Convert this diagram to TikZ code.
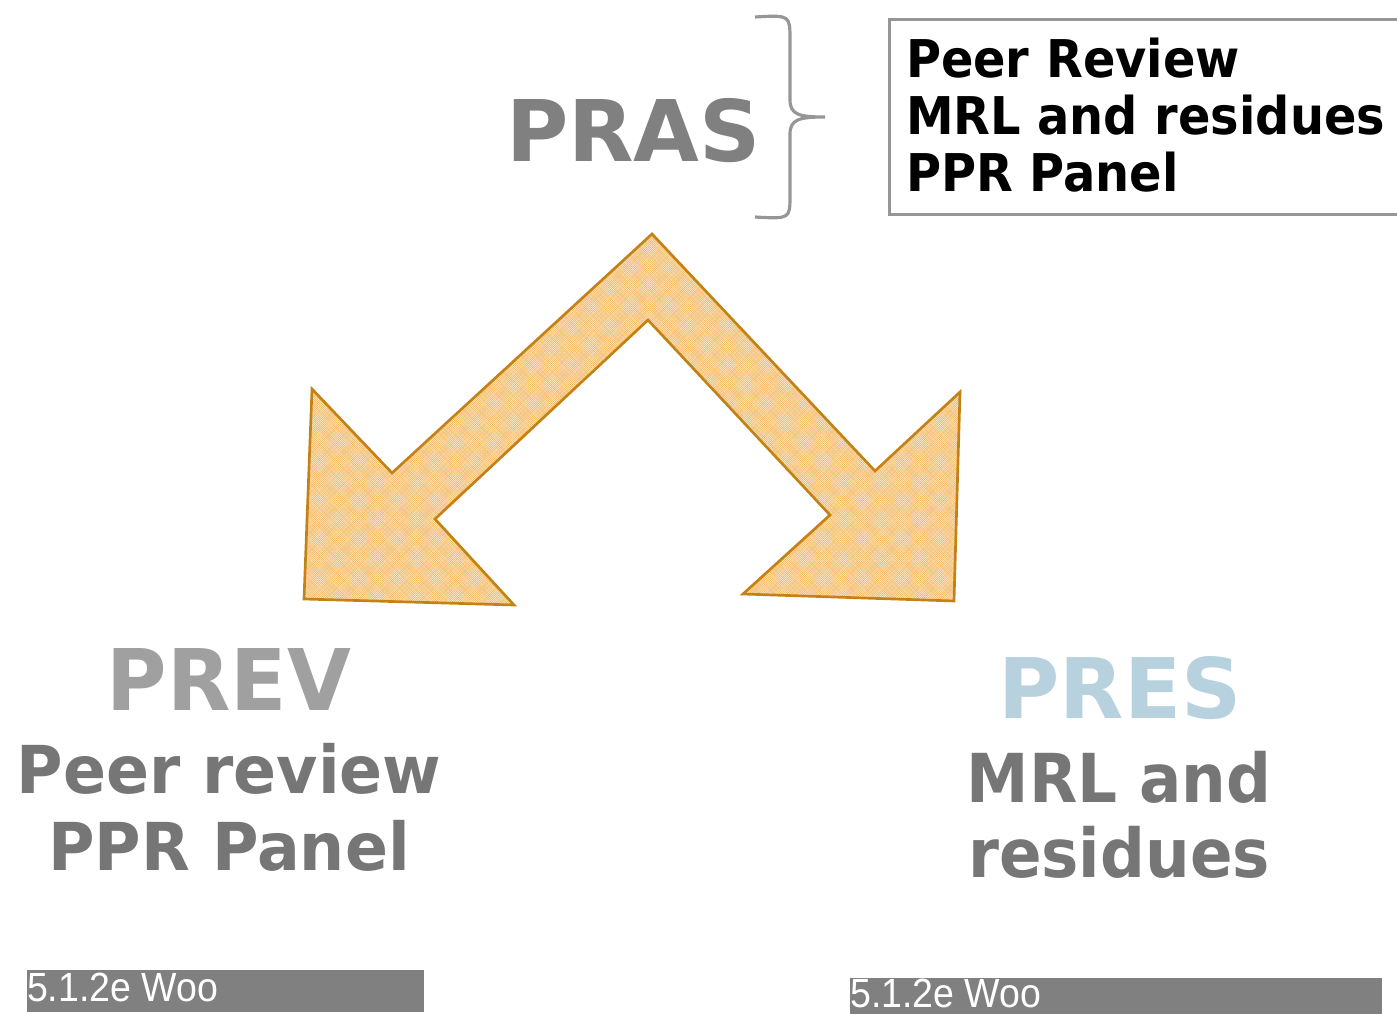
\documentclass[tikz,border=0pt]{standalone}
\usepackage{fontspec}
\usepackage{graphicx}
\setmainfont{DejaVu Sans}
\newfontfamily\footfont{Liberation Sans}
\usetikzlibrary{patterns}
\definecolor{prasgray}{RGB}{128,128,128}
\definecolor{prevgray}{RGB}{160,160,160}
\definecolor{txtgray}{RGB}{118,118,118}
\definecolor{presblue}{RGB}{183,210,222}
\definecolor{boxgray}{RGB}{150,150,150}
\definecolor{arrline}{RGB}{196,130,20}
\definecolor{arrfill}{RGB}{254,240,215}
\definecolor{arrhatch}{RGB}{242,180,90}
\definecolor{footgray}{RGB}{128,128,128}
\newcommand{\squeeze}[2]{\scalebox{#1}[1]{#2}}
\begin{document}
\begin{tikzpicture}[x=0.05cm,y=-0.05cm,
  lbl/.style={inner sep=0pt,outer sep=0pt,font=\bfseries},
  foot/.style={fill=footgray,inner sep=0pt,outer sep=0pt},
  foottxt/.style={inner sep=0pt,text=white,font=\footfont\fontsize{58}{58}\selectfont},
  arrowshape/.style={draw=arrline,line width=3.8pt,line join=miter,
     preaction={fill=arrfill},pattern=crosshatch,pattern color=arrhatch}]
\useasboundingbox (0,0) rectangle (1397,1014);
% title
\node[lbl,anchor=base west,text=prasgray,font=\bfseries\fontsize{121}{121}\selectfont] (pras) at (506,162) {\squeeze{1.0}{PRAS}};
% brace
\coordinate (btop) at (755,17);
\coordinate (bbot) at (755,217);
\coordinate (btip) at (825,117);
\draw[boxgray,line width=4.5pt] (btop) .. controls (790,15) .. (790,40) -- (790,100) .. controls (790,115) and (800,117) .. (btip)
   .. controls (800,117) and (790,119) .. (790,134) -- (790,195) .. controls (790,219) .. (bbot);
% box
\node[draw=boxgray,line width=4pt,inner sep=0pt,minimum width=540*1.4226pt,minimum height=195*1.4226pt,anchor=north west] (box) at (888,18) {};
\begin{scope}[every node/.style={lbl,anchor=base west,font=\bfseries\fontsize{74}{74}\selectfont}]
\node (b1) at (906,78) {\squeeze{0.92}{Peer Review}};
\node (b2) at (906,135) {\squeeze{0.92}{MRL and residues}};
\node (b3) at (906,192) {\squeeze{0.92}{PPR Panel}};
\end{scope}
% arrow
\draw[arrowshape] (652,234) -- (875,471) -- (960,392) -- (954,601) -- (743,594) -- (830,515) -- (648,320)
  -- (435,519) -- (514,605) -- (304,599) -- (312,389) -- (392,473) -- cycle;
% left group
\node[lbl,anchor=base,text=prevgray,font=\bfseries\fontsize{121}{121}\selectfont] (prev) at (229,710) {\squeeze{0.97}{PREV}};
\node[lbl,anchor=base,text=txtgray,font=\bfseries\fontsize{94}{94}\selectfont] (l1) at (229,793) {\squeeze{0.96}{Peer review}};
\node[lbl,anchor=base,text=txtgray,font=\bfseries\fontsize{94}{94}\selectfont] (l2) at (229,870) {\squeeze{0.96}{PPR Panel}};
% right group
\node[lbl,anchor=base,text=presblue,font=\bfseries\fontsize{119}{119}\selectfont] (pres) at (1120,718) {\squeeze{1.0}{PRES}};
\node[lbl,anchor=base,text=txtgray,font=\bfseries\fontsize{96}{96}\selectfont] (r1) at (1119,802) {\squeeze{0.93}{MRL and}};
\node[lbl,anchor=base,text=txtgray,font=\bfseries\fontsize{96}{96}\selectfont] (r2) at (1119,877) {\squeeze{0.93}{residues}};
% footers
\fill[foot] (27,970) rectangle (424,1012);
\node[foottxt,anchor=base west] (f1) at (27,1001) {\squeeze{0.92}{5.1.2e Woo}};
\fill[foot] (850,978) rectangle (1382,1014);
\node[foottxt,anchor=base west] (f2) at (850,1007) {\squeeze{0.92}{5.1.2e Woo}};
\end{tikzpicture}
\end{document}
